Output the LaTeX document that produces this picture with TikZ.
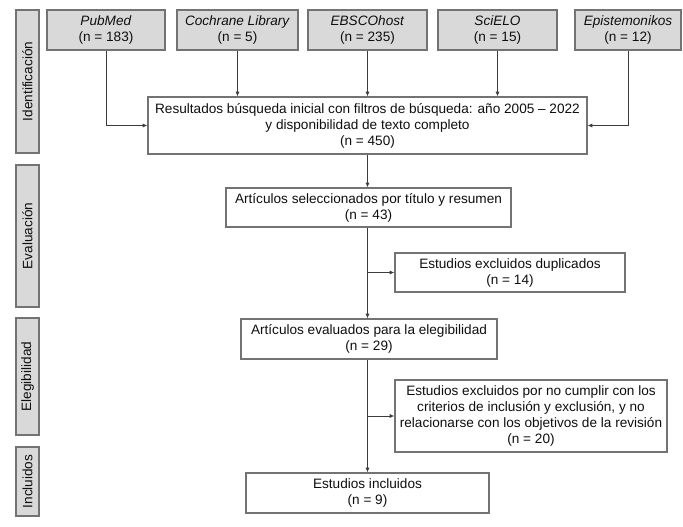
\documentclass[tikz,border=0pt]{standalone}
\usepackage{fontspec}
\setmainfont{Liberation Sans}
\usepackage{xcolor}
\usetikzlibrary{arrows.meta}
\definecolor{barfill}{RGB}{217,217,217}
\definecolor{edgegray}{RGB}{115,115,115}
\definecolor{flowgray}{RGB}{60,60,60}
\definecolor{inkgray}{RGB}{15,15,15}

\begin{document}
\begin{tikzpicture}[x=0.75pt,y=-0.75pt,>={Latex[length=3.5pt,width=3pt]},font=\fontsize{10.2}{12}\selectfont]
\tikzstyle{box}=[draw=edgegray,line width=0.9pt,fill=white,align=center,inner sep=0pt,text=inkgray]
\tikzstyle{dbbox}=[box,fill=barfill,minimum height=30pt]
\tikzstyle{phase}=[box,fill=barfill,minimum height=17.25pt,rotate=90]
\tikzstyle{flow}=[->,draw=flowgray,line width=0.65pt]
\useasboundingbox (0,0) rectangle (683,527);
% fases
\node[phase,minimum width=107.25pt] (ident) at (27.5,81.5) {Identificación};
\node[phase,minimum width=106.5pt] (eval) at (27.5,236) {Evaluación};
\node[phase,minimum width=87.75pt] (eleg) at (27.5,376.5) {Elegibilidad};
\node[phase,minimum width=51.75pt] (incl) at (27.5,481.5) {Incluidos};
% bases de datos
\node[dbbox,minimum width=88.5pt] (pubmed) at (106,30) {\textit{PubMed}\\(n = 183)};
\node[dbbox,minimum width=90.75pt] (cochrane) at (237.5,30) {\textit{Cochrane Library}\\(n = 5)};
\node[dbbox,minimum width=89.25pt] (ebsco) at (367.5,30) {\textit{EBSCOhost}\\(n = 235)};
\node[dbbox,minimum width=89.25pt] (scielo) at (497.5,30) {\textit{SciELO}\\(n = 15)};
\node[dbbox,minimum width=79.5pt] (episte) at (628,30) {\textit{Epistemonikos}\\(n = 12)};
% flujo principal
\node[box,minimum width=329.25pt,minimum height=42.75pt] (busq) at (367.5,125.5) {Resultados búsqueda inicial con filtros de búsqueda: año 2005 -- 2022\\y disponibilidad de texto completo\\(n = 450)};
\node[box,minimum width=213.75pt,minimum height=29.25pt] (selec) at (368.5,207.5) {Artículos seleccionados por título y resumen\\(n = 43)};
\node[box,minimum width=172.5pt,minimum height=29.25pt] (dupl) at (510,272.5) {Estudios excluidos duplicados\\(n = 14)};
\node[box,minimum width=192pt,minimum height=30pt] (elegib) at (369,339) {Artículos evaluados para la elegibilidad\\(n = 29)};
\node[box,minimum width=204pt,minimum height=54pt] (excl) at (531,416) {Estudios excluidos por no cumplir con los\\criterios de inclusión y exclusión, y no\\relacionarse con los objetivos de la revisión\\(n = 20)};
\node[box,minimum width=182.25pt,minimum height=30pt] (final) at (367.5,493) {Estudios incluidos\\(n = 9)};
% conectores
\draw[flow] (pubmed.south) |- (busq.west);
\draw[flow] (cochrane.south) -- (cochrane.south |- busq.north);
\draw[flow] (ebsco.south) -- (ebsco.south |- busq.north);
\draw[flow] (scielo.south) -- (scielo.south |- busq.north);
\draw[flow] (episte.south) |- (busq.east);
\draw[flow] (busq.south) -- (busq.south |- selec.north);
\draw[flow] (busq.south |- selec.south) -- (busq.south |- elegib.north);
\draw[flow] (busq.south |- dupl.west) -- (dupl.west);
\draw[flow] (busq.south |- elegib.south) -- (busq.south |- final.north);
\draw[flow] (busq.south |- excl.west) -- (excl.west);
\end{tikzpicture}
\end{document}
